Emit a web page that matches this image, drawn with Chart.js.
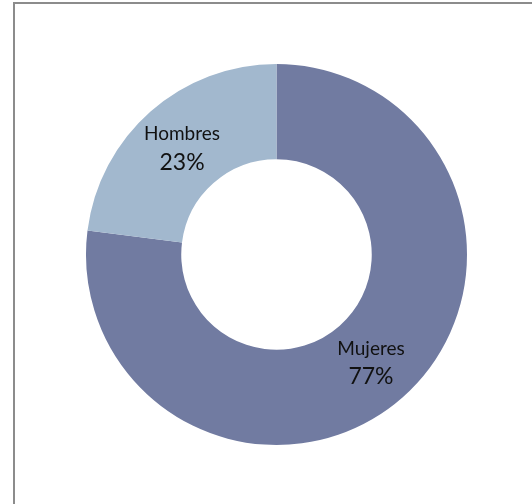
<!DOCTYPE html>
<html>
<head>
<meta charset="utf-8">
<script src="https://cdn.jsdelivr.net/npm/chart.js@4/dist/chart.umd.min.js"></script>
<style>
  html, body { margin: 0; padding: 0; background: #fff; overflow: hidden; }
  #wrap { position: relative; width: 532px; height: 504px; }
  #frame { position: absolute; left: 13px; top: 2px; width: 600px; height: 600px;
           border-left: 2px solid #8c8c8c; border-top: 2px solid #8c8c8c; box-sizing: border-box; }
  canvas { position: absolute; left: 0; top: 0; }
</style>
</head>
<body>
<div id="wrap">
  <div id="frame"></div>
  <canvas id="c" width="532" height="504"></canvas>
</div>
<script>
// Share of people by sex (percent)
const categories = ['Mujeres', 'Hombres'];
const shares = [77, 23];
const sliceColors = ['#717ba1', '#a2b8ce'];

// Writes the category name and its percentage at the middle of each slice
const sliceLabels = {
  id: 'sliceLabels',
  afterDatasetsDraw(chart) {
    const ctx = chart.ctx;
    const meta = chart.getDatasetMeta(0);
    ctx.save();
    ctx.fillStyle = '#111';
    ctx.textAlign = 'center';
    ctx.textBaseline = 'middle';
    meta.data.forEach((arc, i) => {
      const p = arc.tooltipPosition();
      ctx.font = '19px Lato, "Open Sans", sans-serif';
      ctx.fillText(categories[i], p.x, p.y - 13);
      ctx.font = '23px Lato, "Open Sans", sans-serif';
      ctx.fillText(shares[i] + '%', p.x, p.y + 15);
    });
    ctx.restore();
  }
};

new Chart(document.getElementById('c'), {
  type: 'doughnut',
  data: {
    labels: categories,
    datasets: [{
      data: shares,
      backgroundColor: sliceColors,
      borderWidth: 0
    }]
  },
  options: {
    responsive: false,
    animation: false,
    cutout: '50%',
    layout: { padding: { left: 86, right: 65, top: 64, bottom: 59 } },
    plugins: {
      legend: { display: false },
      tooltip: { enabled: false }
    }
  },
  plugins: [sliceLabels]
});
</script>
</body>
</html>
